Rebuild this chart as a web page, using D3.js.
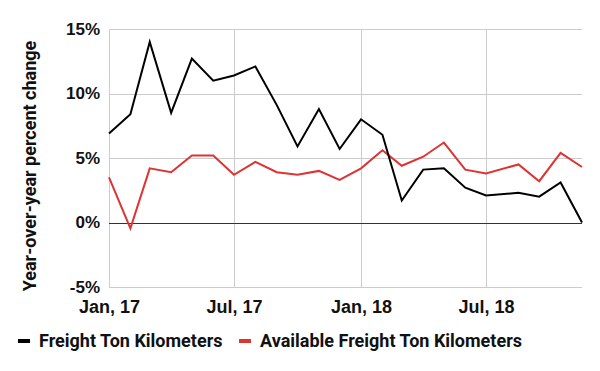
<!DOCTYPE html>
<html>
<head>
<meta charset="utf-8">
<script src="https://cdn.jsdelivr.net/npm/d3@7"></script>
<style>
  html, body { margin: 0; padding: 0; background: #fff; }
  svg { display: block; font-family: Roboto, 'Noto Sans', sans-serif; font-weight: 700; }
  .grid line { stroke: #cccccc; stroke-width: 1; shape-rendering: crispEdges; }
  .axis text { fill: #111; }
  .line { fill: none; stroke-width: 2; stroke-linejoin: miter; }
</style>
</head>
<body>
<div id="chart"></div>
<script>
// monthly readings; the last four come mid-month
const dates = [
  '2017-01-01', '2017-02-01', '2017-03-01', '2017-04-01', '2017-05-01', '2017-06-01',
  '2017-07-01', '2017-08-01', '2017-09-01', '2017-10-01', '2017-11-01', '2017-12-01',
  '2018-01-01', '2018-02-01', '2018-03-01', '2018-04-01', '2018-05-01', '2018-06-01',
  '2018-07-01', '2018-08-17', '2018-09-16', '2018-10-17', '2018-11-17',
];
const freightTK = [
  6.9, 8.4, 14.0, 8.5, 12.7, 11.0, 11.4, 12.1, 9.1, 5.9, 8.8, 5.7,
  8.0, 6.8, 1.7, 4.1, 4.2, 2.7, 2.1, 2.3, 2.0, 3.1, 0.0,
];
const availableFTK = [
  3.5, -0.45, 4.2, 3.9, 5.2, 5.2, 3.7, 4.7, 3.9, 3.7, 4.0, 3.3,
  4.2, 5.6, 4.4, 5.1, 6.2, 4.1, 3.8, 4.5, 3.2, 5.4, 4.3,
];
const yTicks = [-5, 0, 5, 10, 15];
const seriesNames = ['Freight Ton Kilometers', 'Available Freight Ton Kilometers'];
const seriesColors = ['#000000', '#dd3333'];

const width = 600;
const height = 371;
const marginTop = 29;
const marginBottom = 84;
const marginLeft = 109;
const marginRight = 18;

const parse = d3.timeParse('%Y-%m-%d');
const series = [freightTK, availableFTK].map((vals, i) => ({
  name: seriesNames[i],
  color: seriesColors[i],
  values: vals.map((v, j) => ({ date: parse(dates[j]), value: v })),
}));

const scaleX = d3
  .scaleTime()
  .domain(d3.extent(dates, parse))
  .range([marginLeft, width - marginRight]);

const scaleY = d3
  .scaleLinear()
  .domain([-5, 15])
  .range([height - marginBottom, marginTop]);

const $svg = d3
  .select('#chart')
  .append('svg')
  .attr('width', width)
  .attr('height', height);

// gridlines
const xTicks = scaleX.ticks(d3.timeMonth.every(6));
const $grid = $svg.append('g').attr('class', 'grid');
$grid
  .selectAll('.gy')
  .data(yTicks.filter(d => d !== 0))
  .join('line')
  .attr('class', 'gy')
  .attr('x1', marginLeft)
  .attr('x2', width - marginRight)
  .attr('y1', d => Math.round(scaleY(d)) + 0.5)
  .attr('y2', d => Math.round(scaleY(d)) + 0.5);
$grid
  .selectAll('.gx')
  .data(xTicks)
  .join('line')
  .attr('class', 'gx')
  .attr('x1', d => Math.round(scaleX(d)) + 0.5)
  .attr('x2', d => Math.round(scaleX(d)) + 0.5)
  .attr('y1', marginTop)
  .attr('y2', height - marginBottom);

// zero line
$svg
  .append('line')
  .attr('x1', marginLeft)
  .attr('x2', width - marginRight)
  .attr('y1', Math.round(scaleY(0)) + 0.5)
  .attr('y2', Math.round(scaleY(0)) + 0.5)
  .attr('stroke', '#333')
  .attr('stroke-width', 1)
  .attr('shape-rendering', 'crispEdges');

// axes (labels only)
const $yAxis = $svg
  .append('g')
  .attr('class', 'axis')
  .attr('transform', `translate(${marginLeft},0)`)
  .call(
    d3.axisLeft(scaleY)
      .tickValues(yTicks)
      .tickSize(0)
      .tickPadding(9)
      .tickFormat(d => `${d}%`)
  );
$yAxis.select('.domain').remove();
$yAxis.selectAll('text').style('font-size', '17px').style('font-family', null);

const $xAxis = $svg
  .append('g')
  .attr('class', 'axis')
  .attr('transform', `translate(0,${height - marginBottom})`)
  .call(
    d3.axisBottom(scaleX)
      .tickValues(xTicks)
      .tickSize(0)
      .tickPadding(13)
      .tickFormat(d3.timeFormat('%b, %y'))
  );
$xAxis.select('.domain').remove();
$xAxis.selectAll('text').style('font-size', '18px').style('font-family', null);

// y title
$svg
  .append('text')
  .attr('transform', `translate(36,${(marginTop + height - marginBottom) / 2 + 8}) rotate(-90)`)
  .attr('text-anchor', 'middle')
  .style('font-size', '18px')
  .attr('fill', '#111')
  .text('Year-over-year percent change');

// lines
const line = d3
  .line()
  .x(d => scaleX(d.date))
  .y(d => scaleY(d.value));

$svg
  .selectAll('.line')
  .data(series.slice().reverse())
  .join('path')
  .attr('class', 'line')
  .attr('stroke', d => d.color)
  .attr('d', d => line(d.values));

// legend
const legendX = [18, 239];
const $legend = $svg
  .append('g')
  .selectAll('g')
  .data(series)
  .join('g')
  .attr('transform', (d, i) => `translate(${legendX[i]},341)`);
$legend
  .append('rect')
  .attr('x', 0)
  .attr('y', -2)
  .attr('width', 12)
  .attr('height', 4)
  .attr('fill', d => d.color);
$legend
  .append('text')
  .attr('x', 21)
  .attr('dy', '0.35em')
  .style('font-size', '18px')
  .attr('fill', '#111')
  .text(d => d.name);
</script>
</body>
</html>
